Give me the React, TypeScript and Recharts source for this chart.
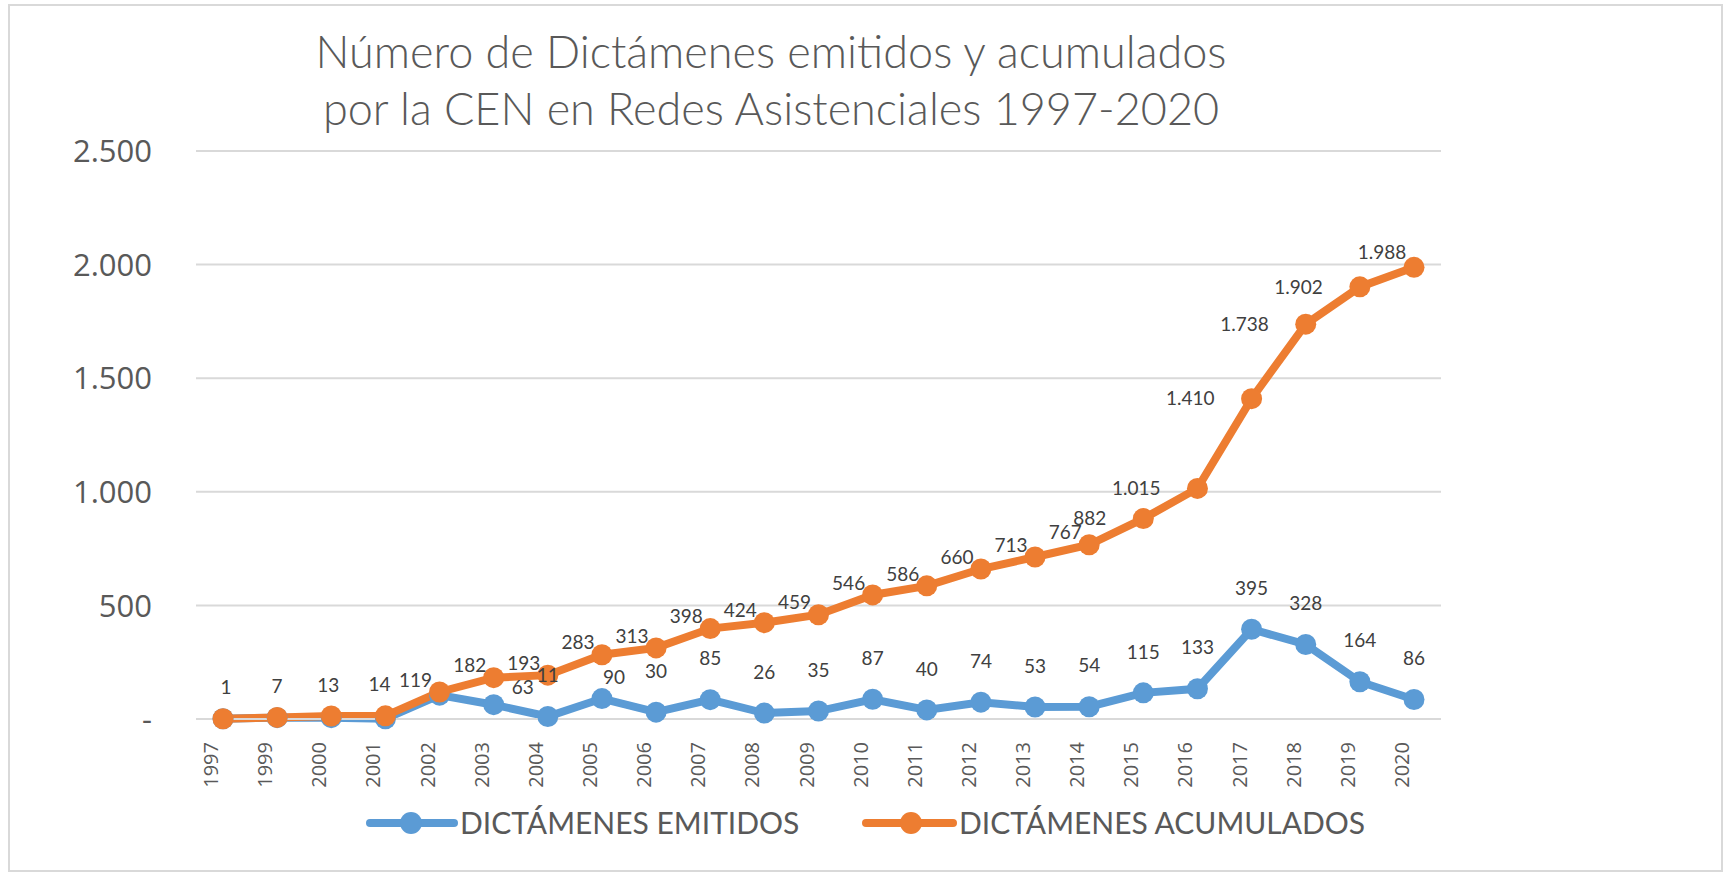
import React from 'react';
import { LineChart, Line, XAxis, YAxis, CartesianGrid, LabelList } from 'recharts';

// years on the category axis (1998 is not in the source table)
const years = [
  '1997', '1999', '2000', '2001', '2002', '2003', '2004', '2005', '2006', '2007', '2008', '2009',
  '2010', '2011', '2012', '2013', '2014', '2015', '2016', '2017', '2018', '2019', '2020',
];
const emitidos = [1, 6, 6, 1, 105, 63, 11, 90, 30, 85, 26, 35, 87, 40, 74, 53, 54, 115, 133, 395, 328, 164, 86];
const acumulados = [1, 7, 13, 14, 119, 182, 193, 283, 313, 398, 424, 459, 546, 586, 660, 713, 767, 882, 1015, 1410, 1738, 1902, 1988];
const yTicks = [0, 500, 1000, 1500, 2000, 2500];

const titleLines = ['Número de Dictámenes emitidos y acumulados', 'por la CEN en Redes Asistenciales 1997-2020'];
const seriesNames = ['DICTÁMENES EMITIDOS', 'DICTÁMENES ACUMULADOS'];
const seriesColors = ['#5B9BD5', '#ED7D31'];

const chartData = years.map((year, i) => ({
  year,
  emitidos: emitidos[i],
  acumulados: acumulados[i],
}));

const W = 1727;
const H = 876;
const AXIS_GREY = '#D9D9D9';
const TEXT_GREY = '#595959';
const LABEL_GREY = '#404040';

const fmt = (n: number) => {
  if (n === 0) return '-';
  if (n >= 1000) return `${Math.floor(n / 1000)}.${String(n % 1000).padStart(3, '0')}`;
  return String(n);
};

const YTick = ({ x, y, payload }: any) => (
  <text x={x} y={y} dy="0.36em" textAnchor="end" fill={TEXT_GREY} fontSize={31} fontFamily="'Open Sans', sans-serif">
    {fmt(payload.value)}
  </text>
);

const XTick = ({ x, y, payload }: any) => (
  <text
    transform={`translate(${x - 5}, ${y + 23}) rotate(-90)`}
    textAnchor="end"
    fill={TEXT_GREY}
    fontSize={20}
    fontFamily="'Open Sans', sans-serif"
  >
    {payload.value}
  </text>
);

const labelText = (x: number, y: number, value: number, anchor: string) => (
  <text x={x} y={y} dy="0.35em" textAnchor={anchor} fill={LABEL_GREY} fontSize={19} fontFamily="Lato, sans-serif">
    {fmt(value)}
  </text>
);

// cumulative series: labels above for the first years, then upper-left, then left
const OrangeLabel = (props: any) => {
  const x = props.x ?? props.viewBox?.x;
  const y = props.y ?? props.viewBox?.y;
  const i = props.index;
  if (i <= 3) return labelText(x + (3 - i * 3), y - 31, props.value, 'middle');
  if (i >= 17 && i <= 21) return labelText(x - 37, y, props.value, 'end');
  if (i === 22) return labelText(x - 32, y - 15, props.value, 'middle');
  return labelText(x - 24, y - 12, props.value, 'middle');
};

// yearly series: labels above the marker, none where the cumulative label sits
const BlueLabel = (props: any) => {
  const x = props.x ?? props.viewBox?.x;
  const y = props.y ?? props.viewBox?.y;
  const i = props.index;
  if (i <= 4) return null;
  if (i === 5) return labelText(x + 29, y - 17, props.value, 'middle');
  if (i === 7) return labelText(x + 12, y - 21, props.value, 'middle');
  return labelText(x, y - 41, props.value, 'middle');
};

const legendItems = [
  { name: seriesNames[0], color: seriesColors[0], x1: 370, x2: 454, cx: 411, tx: 460 },
  { name: seriesNames[1], color: seriesColors[1], x1: 866, x2: 953, cx: 911, tx: 959 },
];

export default function App() {
  return (
    <div style={{ position: 'absolute', left: 0, top: 0, width: W, height: H, background: '#fff' }}>
      <div
        style={{
          position: 'absolute',
          left: 8,
          top: 4,
          width: 1715,
          height: 868,
          border: `2px solid ${AXIS_GREY}`,
          boxSizing: 'border-box',
        }}
      />
      <div style={{ position: 'absolute', left: 0, top: 0 }}>
        <LineChart width={W} height={H} data={chartData} margin={{ top: 151, right: 286, bottom: 57, left: 0 }}>
          <CartesianGrid vertical={false} stroke={AXIS_GREY} strokeWidth={2} />
          <XAxis
            dataKey="year"
            interval={0}
            padding={{ left: 27, right: 27 }}
            height={100}
            tickSize={0}
            tickMargin={0}
            tickLine={false}
            axisLine={{ stroke: AXIS_GREY, strokeWidth: 2 }}
            tick={<XTick />}
          />
          <YAxis
            width={196}
            domain={[0, 2500]}
            ticks={yTicks}
            interval={0}
            tickSize={0}
            tickMargin={44}
            tickLine={false}
            axisLine={false}
            tick={<YTick />}
          />
          <Line
            dataKey="emitidos"
            stroke={seriesColors[0]}
            strokeWidth={8}
            dot={{ r: 10.5, fill: seriesColors[0], stroke: seriesColors[0], strokeWidth: 0 }}
            activeDot={false}
            isAnimationActive={false}
          />
          <Line
            dataKey="acumulados"
            stroke={seriesColors[1]}
            strokeWidth={8}
            dot={{ r: 10.5, fill: seriesColors[1], stroke: seriesColors[1], strokeWidth: 0 }}
            activeDot={false}
            isAnimationActive={false}
          />
          {/* label-only series so the labels sit on top of both lines */}
          <Line dataKey="acumulados" stroke="none" dot={false} activeDot={false} isAnimationActive={false} legendType="none">
            <LabelList dataKey="acumulados" content={OrangeLabel} />
          </Line>
          <Line dataKey="emitidos" stroke="none" dot={false} activeDot={false} isAnimationActive={false} legendType="none">
            <LabelList dataKey="emitidos" content={BlueLabel} />
          </Line>
        </LineChart>
      </div>
      <svg width={W} height={H} style={{ position: 'absolute', left: 0, top: 0, pointerEvents: 'none' }}>
        <text x={771} y={68} textAnchor="middle" fill={TEXT_GREY} fontSize={45} fontWeight={300} fontFamily="Lato, sans-serif">
          {titleLines[0]}
        </text>
        <text x={771} y={125} textAnchor="middle" fill={TEXT_GREY} fontSize={45} fontWeight={300} fontFamily="Lato, sans-serif">
          {titleLines[1]}
        </text>
        {legendItems.map(item => (
          <g key={item.name}>
            <line x1={item.x1} x2={item.x2} y1={823} y2={823} stroke={item.color} strokeWidth={8} strokeLinecap="round" />
            <circle cx={item.cx} cy={823} r={11} fill={item.color} />
            <text x={item.tx} y={834} fill={TEXT_GREY} fontSize={30} fontFamily="Lato, sans-serif">
              {item.name}
            </text>
          </g>
        ))}
      </svg>
    </div>
  );
}
